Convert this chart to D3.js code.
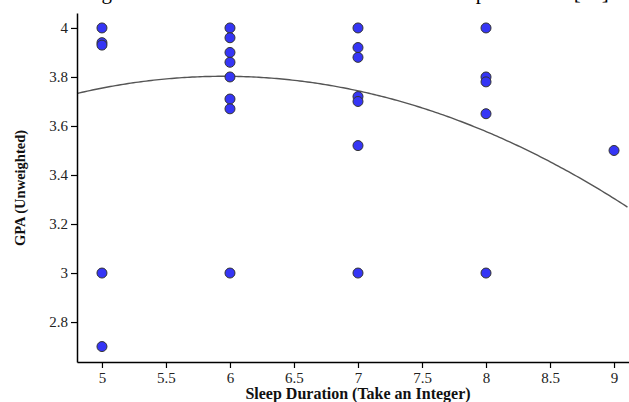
<!DOCTYPE html>
<html>
<head>
<meta charset="utf-8">
<script src="https://cdn.jsdelivr.net/npm/d3@7"></script>
<style>
  body { margin: 0; background: #fff; }
  svg { display: block; }
</style>
</head>
<body>
<div id="chart"></div>
<script>
// data
var sleepHours = [5, 5, 5, 5, 5,
                  6, 6, 6, 6, 6, 6, 6, 6,
                  7, 7, 7, 7, 7, 7, 7,
                  8, 8, 8, 8, 8,
                  9];
var gpa = [4.0, 3.94, 3.93, 3.0, 2.7,
           4.0, 3.96, 3.90, 3.86, 3.80, 3.71, 3.67, 3.0,
           4.0, 3.92, 3.88, 3.72, 3.70, 3.52, 3.0,
           4.0, 3.80, 3.78, 3.65, 3.0,
           3.50];
// quadratic trend line: c0 + c1*x + c2*x^2
var trendCoef = [1.9078, 0.6371, -0.05355];
var xTicks = [5, 5.5, 6, 6.5, 7, 7.5, 8, 8.5, 9];
var yTicks = [2.8, 3, 3.2, 3.4, 3.6, 3.8, 4];

var width = 629, height = 402;
var plotLeft = 77, plotRight = 629, plotTop = 13, plotBottom = 362;

var svg = d3.select("#chart").append("svg")
  .attr("width", width)
  .attr("height", height);

var x = d3.scaleLinear().domain([4.805, 9.117]).range([plotLeft, plotRight]);
var y = d3.scaleLinear().domain([2.637, 4.061]).range([plotBottom, plotTop]);

// caption of the page above, cut off at the top
svg.append("text")
  .attr("x", 84)
  .attr("y", -1)
  .attr("font-family", "Liberation Serif")
  .attr("font-size", "21px")
  .attr("fill", "#000")
  .text("Figure 6: Scatter Chart Between GPA and Sleep Behavior [14]");

// trend curve
var curveX = d3.range(x.domain()[0], x.domain()[1] + 0.001, 0.02);
var line = d3.line()
  .x(function(d) { return x(d); })
  .y(function(d) { return y(trendCoef[0] + trendCoef[1] * d + trendCoef[2] * d * d); });

svg.append("path")
  .datum(curveX)
  .attr("d", line)
  .attr("fill", "none")
  .attr("stroke", "#555")
  .attr("stroke-width", 1.4);

// points
svg.selectAll(".dot").data(gpa).enter()
  .append("circle")
  .attr("class", "dot")
  .attr("cx", function(d, i) { return x(sleepHours[i]); })
  .attr("cy", function(d) { return y(d); })
  .attr("r", 5)
  .attr("fill", "#3535f5")
  .attr("stroke", "#333")
  .attr("stroke-width", 1);

// axes
var xAxis = svg.append("g")
  .attr("transform", "translate(0," + plotBottom + ")")
  .call(d3.axisBottom(x).tickValues(xTicks).tickSize(6).tickSizeOuter(0).tickFormat(d3.format("")));
var yAxis = svg.append("g")
  .attr("transform", "translate(" + plotLeft + ",0)")
  .call(d3.axisLeft(y).tickValues(yTicks).tickSize(6).tickSizeOuter(0).tickFormat(d3.format("")));

[xAxis, yAxis].forEach(function(g) {
  g.select(".domain").attr("stroke", "#000").attr("stroke-width", 1.5);
  g.selectAll(".tick line").attr("stroke", "#000").attr("stroke-width", 1.2);
  g.selectAll(".tick text")
    .attr("font-family", "Liberation Serif")
    .attr("font-size", "15px")
    .attr("fill", "#222");
});
xAxis.selectAll(".tick text").attr("dy", "0.8em");
yAxis.selectAll(".tick text").attr("x", -9);

// axis titles
svg.append("text")
  .attr("x", 358)
  .attr("y", 399)
  .attr("text-anchor", "middle")
  .attr("font-family", "Liberation Serif")
  .attr("font-weight", "bold")
  .attr("font-size", "16px")
  .attr("fill", "#111")
  .text("Sleep Duration (Take an Integer)");

svg.append("text")
  .attr("transform", "translate(25,188) rotate(-90)")
  .attr("text-anchor", "middle")
  .attr("font-family", "Liberation Serif")
  .attr("font-weight", "bold")
  .attr("font-size", "14.5px")
  .attr("fill", "#111")
  .text("GPA (Unweighted)");
</script>
</body>
</html>
